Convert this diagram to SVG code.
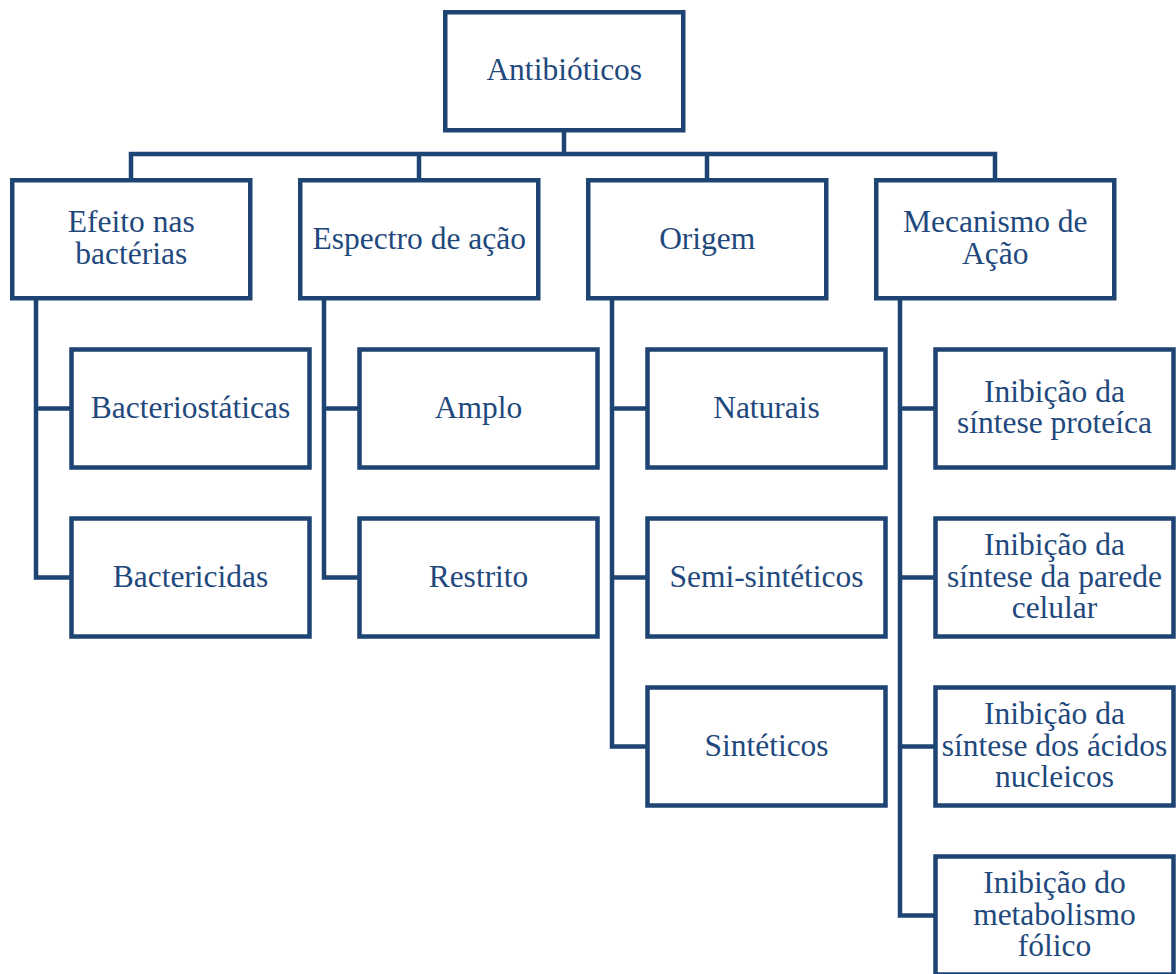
<svg xmlns="http://www.w3.org/2000/svg" width="1176" height="974" viewBox="0 0 1176 974">
<style>
rect.box{fill:#fff;stroke:#1e4474;stroke-width:4.5;}
.conn path{fill:none;stroke:#1e4474;stroke-width:4.5;stroke-linejoin:miter;}
text{font-family:"Liberation Serif","Times New Roman",serif;font-size:31.5px;fill:#1f497d;text-anchor:middle;}
</style>
<rect width="1176" height="974" fill="#fff"/>
<g class="conn" id="connectors">
<path d="M564,130 V154"/>
<path d="M131,180 V154 H995 V180"/>
<path d="M419,154 V180"/>
<path d="M707,154 V180"/>
<path d="M36,298 V577.5 H71.5"/><path d="M36,408.5 H71.5"/>
<path d="M324,298 V577.5 H359.5"/><path d="M324,408.5 H359.5"/>
<path d="M612,298 V746.5 H647.5"/><path d="M612,408.5 H647.5"/><path d="M612,577.5 H647.5"/>
<path d="M900,298 V915.5 H935.5"/><path d="M900,408.5 H935.5"/><path d="M900,577.5 H935.5"/><path d="M900,746.5 H935.5"/>
</g>
<g id="antibioticos"><rect class="box" x="445.25" y="12.25" width="238" height="118"/><text x="564.25" y="80">Antibióticos</text></g>
<g id="efeito"><rect class="box" x="12.25" y="180.25" width="238" height="118"/><text x="131.25" y="232">Efeito nas</text><text x="131.25" y="263.5">bactérias</text></g>
<g id="espectro"><rect class="box" x="300.25" y="180.25" width="238" height="118"/><text x="419.25" y="248.5">Espectro de ação</text></g>
<g id="origem"><rect class="box" x="588.25" y="180.25" width="238" height="118"/><text x="707.25" y="248.5">Origem</text></g>
<g id="mecanismo"><rect class="box" x="876.25" y="180.25" width="238" height="118"/><text x="995.25" y="232">Mecanismo de</text><text x="995.25" y="263.5">Ação</text></g>
<g id="bacteriostaticas"><rect class="box" x="71.5" y="349.5" width="238" height="118"/><text x="190.5" y="418">Bacteriostáticas</text></g>
<g id="bactericidas"><rect class="box" x="71.5" y="518.5" width="238" height="118"/><text x="190.5" y="587">Bactericidas</text></g>
<g id="amplo"><rect class="box" x="359.5" y="349.5" width="238" height="118"/><text x="478.5" y="418">Amplo</text></g>
<g id="restrito"><rect class="box" x="359.5" y="518.5" width="238" height="118"/><text x="478.5" y="587">Restrito</text></g>
<g id="naturais"><rect class="box" x="647.5" y="349.5" width="238" height="118"/><text x="766.5" y="418">Naturais</text></g>
<g id="semisinteticos"><rect class="box" x="647.5" y="518.5" width="238" height="118"/><text x="766.5" y="587">Semi-sintéticos</text></g>
<g id="sinteticos"><rect class="box" x="647.5" y="687.5" width="238" height="118"/><text x="766.5" y="756">Sintéticos</text></g>
<g id="proteica"><rect class="box" x="935.5" y="349.5" width="238" height="118"/><text x="1054.5" y="401.7">Inibição da</text><text x="1054.5" y="433.3">síntese proteíca</text></g>
<g id="parede"><rect class="box" x="935.5" y="518.5" width="238" height="118"/><text x="1054.5" y="555">Inibição da</text><text x="1054.5" y="586.6">síntese da parede</text><text x="1054.5" y="618.2">celular</text></g>
<g id="acidos"><rect class="box" x="935.5" y="687.5" width="238" height="118"/><text x="1054.5" y="724">Inibição da</text><text x="1054.5" y="755.6">síntese dos ácidos</text><text x="1054.5" y="787.2">nucleicos</text></g>
<g id="folico"><rect class="box" x="935.5" y="856.5" width="238" height="118"/><text x="1054.5" y="893">Inibição do</text><text x="1054.5" y="924.6">metabolismo</text><text x="1054.5" y="956.2">fólico</text></g>
</svg>
